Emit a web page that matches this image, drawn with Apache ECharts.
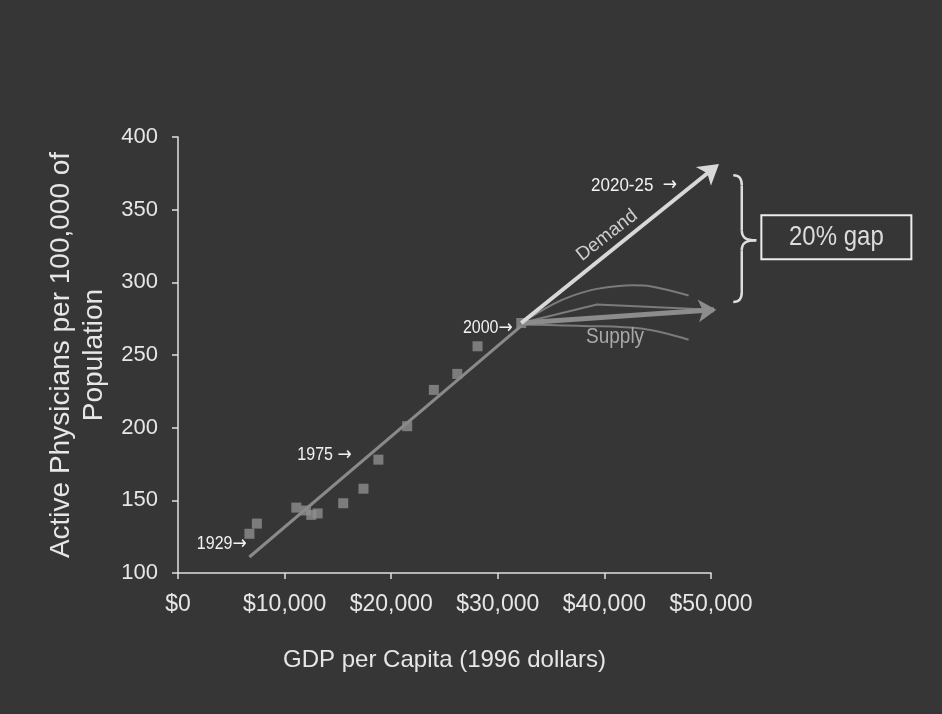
<!DOCTYPE html>
<html><head><meta charset="utf-8">
<script src="https://cdn.jsdelivr.net/npm/echarts@6/dist/echarts.min.js"></script>
<style>html,body{margin:0;padding:0;background:#363636}#c{width:942px;height:714px}</style>
</head><body><div id="c"></div>
<script>
// ---- data ----
const gdpPerCapita      = [6700, 7400, 11100, 12000, 12500, 13100, 15500, 17400, 18800, 21500, 24000, 26200, 28100, 32200];
const physiciansPer100k = [127, 134, 145, 143, 140, 141, 148, 158, 178, 201, 226, 237, 256, 272];
const trendGdp  = [6700, 32200];
const trendPhys = [111, 270];
const demandGdp  = [32200, 50750];
const demandPhys = [272, 381.5];
const supplyGdp  = [32200, 50500];
const supplyPhys = [272, 281.2];
const supplyUpperGdp  = [32200, 35200, 37100, 39300, 42700, 44300, 47900];
const supplyUpperPhys = [272, 285, 291, 295.5, 298, 297.3, 291];
const supplyMidGdp  = [32200, 39300, 49600];
const supplyMidPhys = [272, 284.7, 281.3];
const supplyLowGdp  = [32200, 38000, 43600, 47900];
const supplyLowPhys = [271, 270, 268, 260.5];
const xTickValues = [0, 10000, 20000, 30000, 40000, 50000];
const yTickValues = [100, 150, 200, 250, 300, 350, 400];

const zip = (a, b) => a.map((v, i) => [v, b[i]]);
const FONT = "'Liberation Sans', Arial, sans-serif";

const chart = echarts.init(document.getElementById('c'), null, {renderer: 'canvas'});

function arrowSeries(name, xs, ys, color, width, size, angle) {
  return {
    name, type: 'line', z: 5, silent: true, clip: false,
    symbol: 'arrow', showSymbol: true, symbolSize: size,
    lineStyle: {color, width}, itemStyle: {color},
    data: [{value: [xs[0], ys[0]], symbol: 'none'},
           {value: [xs[1], ys[1]], symbolRotate: angle}]
  };
}

const option = {
  backgroundColor: '#363636',
  animation: false,
  grid: {left: 178, right: 231, top: 137, bottom: 141, containLabel: false},
  xAxis: {
    type: 'value', min: xTickValues[0], max: xTickValues[xTickValues.length - 1], interval: 10000,
    name: 'GDP per Capita (1996 dollars)', nameLocation: 'middle', nameGap: 75,
    nameTextStyle: {color: '#e6e6e6', fontSize: 24, fontFamily: FONT},
    axisLine: {show: true, lineStyle: {color: '#e0e0e0', width: 1.5}},
    axisTick: {show: true, length: 6, lineStyle: {color: '#e0e0e0', width: 1.5}},
    axisLabel: {color: '#e6e6e6', fontSize: 23, fontFamily: FONT, margin: 20,
      formatter: v => '$' + v.toLocaleString('en-US')},
    splitLine: {show: false}
  },
  yAxis: {
    type: 'value', min: yTickValues[0], max: yTickValues[yTickValues.length - 1], interval: 50,
    name: 'Active Physicians per 100,000 of\nPopulation', nameLocation: 'middle', nameGap: 67,
    nameTextStyle: {color: '#e6e6e6', fontSize: 28, fontFamily: FONT, lineHeight: 33},
    axisLine: {show: true, lineStyle: {color: '#e0e0e0', width: 1.5}},
    axisTick: {show: true, length: 6, lineStyle: {color: '#e0e0e0', width: 1.5}},
    axisLabel: {color: '#e6e6e6', fontSize: 22, fontFamily: FONT, margin: 20},
    splitLine: {show: false}
  },
  series: [
    {
      name: 'Observed', type: 'scatter', symbol: 'rect', symbolSize: 10, z: 2,
      itemStyle: {color: '#8e8e8e'}, silent: true,
      data: zip(gdpPerCapita, physiciansPer100k)
    },
    {
      name: 'Supply upper', type: 'line', showSymbol: false, smooth: 0.35, z: 3, silent: true, clip: false,
      lineStyle: {color: '#7b7b7b', width: 2},
      data: zip(supplyUpperGdp, supplyUpperPhys)
    },
    {
      name: 'Supply mid', type: 'line', showSymbol: false, z: 3, silent: true, clip: false,
      lineStyle: {color: '#7b7b7b', width: 2},
      data: zip(supplyMidGdp, supplyMidPhys)
    },
    {
      name: 'Supply low', type: 'line', showSymbol: false, smooth: 0.35, z: 3, silent: true, clip: false,
      lineStyle: {color: '#7b7b7b', width: 2},
      data: zip(supplyLowGdp, supplyLowPhys)
    },
    {
      name: 'Trend', type: 'line', showSymbol: false, z: 4, silent: true, clip: false,
      lineStyle: {color: '#8a8a8a', width: 3},
      data: zip(trendGdp, trendPhys)
    }
  ]
};
chart.setOption(option);

const P = (x, y) => chart.convertToPixel({gridIndex: 0}, [x, y]);
// arrow head orientation from pixel direction of each arrow
function headAngle(xs, ys) {
  const a = P(xs[0], ys[0]), b = P(xs[1], ys[1]);
  const theta = Math.atan2(a[1] - b[1], b[0] - a[0]) * 180 / Math.PI;
  return theta - 90;
}
chart.setOption({
  series: [
    arrowSeries('Supply', supplyGdp, supplyPhys, '#8c8c8c', 5, [17, 18], headAngle(supplyGdp, supplyPhys)),
    arrowSeries('Demand', demandGdp, demandPhys, '#d8d8d8', 4, [18, 20], headAngle(demandGdp, demandPhys))
  ].map((s, i) => Object.assign(s, {id: 'arrow' + i}))
});

function label(text, pt, opts) {
  return Object.assign({
    type: 'text', x: pt[0], y: pt[1], silent: true, z: 100, scaleY: 1.12,
    style: Object.assign({text, fill: '#f2f2f2', fontSize: 16, fontFamily: FONT,
      align: 'right', verticalAlign: 'middle',
      rich: {a: {fontFamily: "'DejaVu Sans', sans-serif", fontSize: 17, fill: '#f2f2f2'}}}, opts.style || {})
  }, opts.el || {});
}
const braceTop = P(52090, 373.6);
const braceBot = P(52090, 286.5);
const bx = braceTop[0], by = braceTop[1];
const bh = braceBot[1] - braceTop[1];
const tipY = bh * 0.513;
const braceStyle = {stroke: '#dedede', lineWidth: 2.5, fill: null};
const brace = [
  {type: 'bezierCurve', shape: {x1: bx, y1: by, cpx1: bx + 6, cpy1: by, cpx2: bx + 8.5, cpy2: by + 3, x2: bx + 8.5, y2: by + 10}},
  {type: 'line', shape: {x1: bx + 8.5, y1: by + 10, x2: bx + 8.5, y2: by + tipY - 10}},
  {type: 'bezierCurve', shape: {x1: bx + 8.5, y1: by + tipY - 10, cpx1: bx + 8.5, cpy1: by + tipY - 3, cpx2: bx + 12, cpy2: by + tipY, x2: bx + 23, y2: by + tipY}},
  {type: 'bezierCurve', shape: {x1: bx + 23, y1: by + tipY, cpx1: bx + 12, cpy1: by + tipY, cpx2: bx + 8.5, cpy2: by + tipY + 3, x2: bx + 8.5, y2: by + tipY + 10}},
  {type: 'line', shape: {x1: bx + 8.5, y1: by + tipY + 10, x2: bx + 8.5, y2: by + bh - 10}},
  {type: 'bezierCurve', shape: {x1: bx + 8.5, y1: by + bh - 10, cpx1: bx + 8.5, cpy1: by + bh - 3, cpx2: bx + 6, cpy2: by + bh, x2: bx, y2: by + bh}}
].map(e => Object.assign(e, {silent: true, z: 100, style: braceStyle}));
const boxC = P(61760, 331);

chart.setOption({
  graphic: [
    label('1929{a|\u2192}', P(6445, 119.8), {}),
    label('1975 {a|\u2192}', P(16290, 181), {}),
    label('2000{a|\u2192}', P(31400, 268.4), {}),
    label('2020-25  {a|\u2192}', P(46820, 366.8), {style: {fontSize: 17}}),
    label('Supply', P(41000, 262.2), {style: {fontSize: 19, fill: '#a8a8a8', align: 'center'}}),
    label('Demand', P(40240, 332.3), {style: {fontSize: 19, fill: '#cdcdcd', align: 'center'}, el: {rotation: 38 * Math.PI / 180, scaleY: 1}}),
    ...brace,
    {
      type: 'rect', x: boxC[0] - 75, y: boxC[1] - 22, silent: true, z: 100,
      shape: {width: 150, height: 44},
      style: {stroke: '#ececec', lineWidth: 2, fill: null}
    },
    label('20% gap', boxC, {style: {fontSize: 24, fill: '#dcdcdc', align: 'center'}})
  ]
});
</script>
</body></html>
